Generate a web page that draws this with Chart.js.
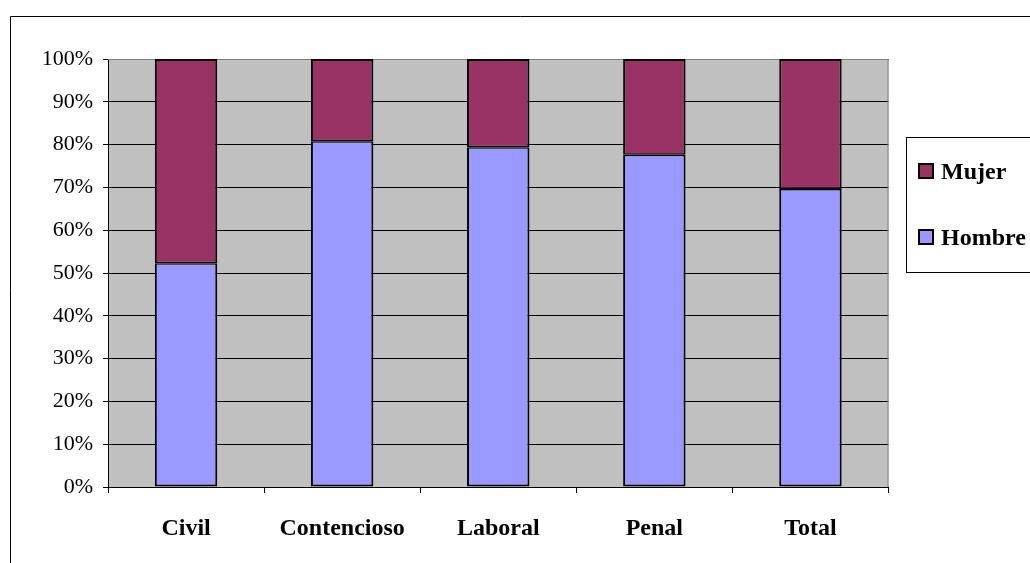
<!DOCTYPE html>
<html>
<head>
<meta charset="utf-8">
<script src="https://cdn.jsdelivr.net/npm/chart.js@4/dist/chart.umd.min.js"></script>
<style>
html,body{margin:0;padding:0;background:#fff;}
#wrap{width:1030px;height:563px;position:relative;}
canvas{display:block;}
</style>
</head>
<body>
<div id="wrap"><canvas id="c" width="1030" height="563" style="width:1030px;height:563px"></canvas></div>
<script>
const categories = ['Civil', 'Contencioso', 'Laboral', 'Penal', 'Total'];
const hombre = [52.3, 80.8, 79.4, 77.6, 69.6];
const mujer = [47.7, 19.2, 20.6, 22.4, 30.4];
const yTicks = [0, 10, 20, 30, 40, 50, 60, 70, 80, 90, 100];
const seriesNames = ['Hombre', 'Mujer'];
const colors = ['#9999FF', '#993366'];

const FONT = "'Liberation Serif', 'Times New Roman', serif";

const framePlugin = {
  id: 'frame',
  beforeDraw(chart) {
    const ctx = chart.ctx, a = chart.chartArea;
    ctx.save();
    ctx.fillStyle = '#ffffff';
    ctx.fillRect(0, 0, chart.width, chart.height);
    ctx.fillStyle = '#C0C0C0';
    ctx.fillRect(a.left, a.top, a.right - a.left, a.bottom - a.top);
    ctx.restore();
  },
  beforeDatasetsDraw(chart) {
    const ctx = chart.ctx, a = chart.chartArea;
    ctx.save();
    ctx.strokeStyle = '#808080';
    ctx.lineWidth = 1;
    ctx.beginPath();
    ctx.moveTo(a.left, a.top + 0.5);
    ctx.lineTo(a.right - 0.5, a.top + 0.5);
    ctx.lineTo(a.right - 0.5, a.bottom);
    ctx.stroke();
    ctx.restore();
  },
  afterDraw(chart) {
    const ctx = chart.ctx;
    ctx.save();
    ctx.strokeStyle = '#000';
    ctx.lineWidth = 1;
    ctx.beginPath();
    ctx.moveTo(10.5, 600);
    ctx.lineTo(10.5, 16.5);
    ctx.lineTo(1040, 16.5);
    ctx.stroke();
    ctx.strokeStyle = '#000';
    ctx.strokeRect(906.5, 137.5, 200, 135);
    const ds = chart.data.datasets;
    const order = [1, 0];
    const ys = [163, 229];
    ctx.font = 'bold 24px ' + FONT;
    ctx.textBaseline = 'alphabetic';
    ctx.textAlign = 'left';
    order.forEach((di, i) => {
      const y = ys[i];
      ctx.fillStyle = ds[di].backgroundColor;
      ctx.fillRect(918, y, 16, 16);
      ctx.lineWidth = 2;
      ctx.strokeStyle = '#000';
      ctx.strokeRect(919, y + 1, 14, 14);
      ctx.fillStyle = '#000';
      ctx.fillText(ds[di].label, 941, y + 16);
    });
    ctx.restore();
  }
};

new Chart(document.getElementById('c'), {
  type: 'bar',
  data: {
    labels: categories,
    datasets: [
      {
        label: seriesNames[0],
        data: hombre,
        backgroundColor: colors[0],
        borderColor: '#000',
        borderWidth: {left: 2, right: 2, bottom: 2, top: 1.5},
        borderSkipped: false,
        barPercentage: 0.4,
        categoryPercentage: 1.0
      },
      {
        label: seriesNames[1],
        data: mujer,
        backgroundColor: colors[1],
        borderColor: '#000',
        borderWidth: {left: 2, right: 2, top: 2, bottom: 1.5},
        borderSkipped: false,
        barPercentage: 0.4,
        categoryPercentage: 1.0
      }
    ]
  },
  options: {
    responsive: false,
    animation: false,
    devicePixelRatio: 1,
    layout: {padding: {left: 10, top: 59, right: 141.5, bottom: 0}},
    plugins: {
      legend: {display: false},
      tooltip: {enabled: false},
      title: {display: false}
    },
    scales: {
      x: {
        stacked: true,
        grid: {
          offset: true,
          drawOnChartArea: false,
          color: '#000',
          tickLength: 6,
          lineWidth: 1
        },
        border: {display: true, color: '#000', width: 1},
        ticks: {
          color: '#000',
          font: {family: FONT, size: 24, weight: 'bold'},
          padding: 21,
          maxRotation: 0,
          autoSkip: false
        },
        afterFit(scale) { scale.height = 76; }
      },
      y: {
        stacked: true,
        min: 0,
        max: 100,
        afterBuildTicks(scale) { scale.ticks = yTicks.map(v => ({value: v})); },
        grid: {
          color: '#000',
          lineWidth: 1,
          tickLength: 5
        },
        border: {display: true, color: '#000', width: 1},
        ticks: {
          color: '#000',
          font: {family: FONT, size: 22},
          padding: 10,
          callback: v => v + '%'
        },
        afterFit(scale) { scale.width = 98; }
      }
    }
  },
  plugins: [framePlugin]
});
</script>
</body>
</html>
